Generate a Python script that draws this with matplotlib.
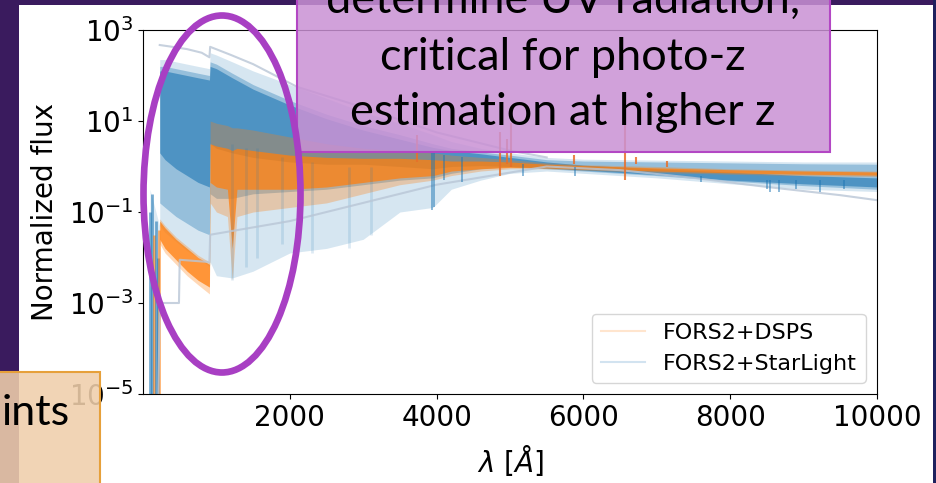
import numpy as np
import matplotlib.pyplot as plt
from matplotlib.patches import Ellipse, Rectangle
from matplotlib.lines import Line2D

# ---- data (log10 of normalized flux) ----
# FORS2+StarLight envelope (blue)
sl_wave = [228, 300, 450, 600, 750, 905, 915, 1000, 1216, 1500, 2000, 2500, 3000,
           3500, 3950, 4200, 4600, 5000, 5500, 6000, 7000, 8000, 9000, 10000]
sl_light_hi = [2.35, 2.35, 2.3, 2.25, 2.2, 2.15, 2.5, 2.45, 2.3, 2.1, 1.8, 1.5, 1.2,
               0.95, 0.7, 0.55, 0.4, 0.3, 0.2, 0.16, 0.14, 0.12, 0.1, 0.1]
sl_light_lo = [-1.3, -1.45, -1.65, -1.85, -2.0, -2.2, -2.1, -2.4, -2.45, -2.3, -1.9, -1.8, -1.6,
               -1.0, -0.9, -0.5, -0.3, -0.15, -0.1, -0.15, -0.25, -0.38, -0.5, -0.55]
sl_mid_hi = [2.2, 2.2, 2.15, 2.1, 2.05, 2.0, 2.3, 2.25, 2.05, 1.8, 1.45, 1.15, 0.9,
             0.7, 0.5, 0.4, 0.32, 0.25, 0.15, 0.12, 0.1, 0.08, 0.06, 0.05]
sl_mid_lo = [-0.8, -0.9, -1.1, -1.25, -1.4, -1.5, -0.6, -0.7, -0.7, -0.6, -0.55, -0.5, -0.4,
             -0.3, -0.25, -0.15, -0.05, 0.0, -0.05, -0.1, -0.2, -0.32, -0.42, -0.5]
sl_dense_hi = [2.1, 2.1, 2.05, 2.0, 1.95, 1.9, 2.2, 2.15, 1.95, 1.7, 1.35, 1.05, 0.8,
               0.6, 0.42, 0.35, 0.28, 0.2, 0.1, 0.03, -0.05, -0.12, -0.2, -0.25]
sl_dense_lo = [0.3, 0.15, -0.05, -0.2, -0.35, -0.45, 0.5, 0.4, 0.3, 0.2, 0.1, 0.05, 0.05,
               0.0, -0.05, 0.0, 0.02, 0.0, -0.03, -0.08, -0.18, -0.3, -0.38, -0.45]

# far-UV part below the He II edge
fuv_wave = [95, 225]
fuv_lo = [-6, -6]
fuv_hi = [-0.5, -1.3]
fuv_strip_wave = [100, 125, 150, 175, 200, 215]
fuv_strip_top = [-1.0, -0.6, -1.5, -1.2, -2.0, -1.4]
fuv_strip_color = ['#1f77b4', '#1f77b4', '#ff7f0e', '#1f77b4', '#1f77b4', '#ff7f0e']

# FORS2+DSPS envelope (orange)
ds_wave = [228, 300, 450, 600, 750, 905, 915, 1000, 1150, 1216, 1280, 1500, 2000,
           2500, 3000, 3500, 3950, 4200, 4600, 5000, 5500, 6000, 7000, 8000, 9000, 10000]
ds_light_hi = [-1.15, -1.3, -1.55, -1.75, -1.95, -2.1, 1.0, 0.95, 0.9, 0.85, 0.85, 0.8, 0.65,
               0.5, 0.4, 0.35, 0.3, 0.25, 0.2, 0.15, 0.08, 0.04, 0.0, -0.05, -0.08, -0.1]
ds_light_lo = [-1.7, -1.9, -2.15, -2.4, -2.6, -2.8, -0.8, -1.0, -1.1, -2.5, -1.1, -1.0, -0.9,
               -0.8, -0.6, -0.4, -0.3, -0.2, -0.1, -0.05, -0.05, -0.08, -0.13, -0.17, -0.2, -0.22]
ds_dense_hi = [-1.2, -1.35, -1.6, -1.8, -2.0, -2.15, 0.5, 0.45, 0.4, 0.35, 0.4, 0.35, 0.25,
               0.2, 0.18, 0.18, 0.15, 0.12, 0.12, 0.1, 0.05, 0.02, -0.03, -0.07, -0.1, -0.12]
ds_dense_lo = [-1.6, -1.8, -2.05, -2.3, -2.5, -2.65, -0.35, -0.45, -0.5, -1.8, -0.5, -0.5, -0.5,
               -0.45, -0.35, -0.25, -0.2, -0.1, -0.05, -0.02, -0.03, -0.06, -0.1, -0.14, -0.17, -0.19]

# emission lines seen in the DSPS fits
em_wave = [3727, 4861, 4959, 5007, 5876, 6563, 6717, 7136]
em_top = [0.7, 0.76, 0.6, 0.95, 0.25, 0.95, 0.2, 0.12]
em_bot = [0.1, -0.2, 0.05, 0.0, 0.05, -0.3, 0.05, 0.0]

# absorption lines in the StarLight fits
ab_wave = [3934, 3969, 4101, 4340, 5175, 5890, 7600, 8498, 8542, 8662, 8900, 9230, 9550]
ab_top = [0.3, 0.3, 0.25, 0.2, 0.05, 0.0, -0.2, -0.3, -0.3, -0.3, -0.3, -0.3, -0.3]
ab_bot = [-0.95, -0.9, -0.3, -0.35, -0.2, -0.2, -0.35, -0.5, -0.55, -0.55, -0.5, -0.55, -0.5]
uv_ab_wave = [1216, 1400, 1550, 1900, 2300, 2800, 3100]
uv_ab_top = [0.5, 0.4, 0.4, 0.2, 0.1, 0.0, 0.0]
uv_ab_bot = [-2.5, -2.2, -2.0, -1.7, -1.9, -1.8, -1.5]

# two outlying StarLight spectra
top_wave = [228, 400, 600, 800, 905, 915, 1200, 1500, 2100, 3000, 4000, 5000, 5500]
top_logf = [2.67, 2.63, 2.58, 2.5, 2.4, 2.63, 2.45, 2.25, 1.75, 1.3, 0.75, 0.35, 0.2]
low_wave = [200, 228, 300, 490, 500, 905, 915, 2000, 3000, 4000, 5500, 6500, 7500, 8500, 9500, 10000]
low_logf = [-6, -3.0, -3.0, -3.0, -2.05, -2.1, -1.5, -1.2, -0.8, -0.4, 0.0, -0.08, -0.25, -0.45, -0.63, -0.74]

W, H = 936, 483


def fx(x):
    return x / W


def fy(y):
    return 1 - y / H


def lg(v):
    return np.power(10.0, np.array(v, dtype=float))


fig = plt.figure(figsize=(W / 100, H / 100), dpi=100, facecolor='#3a1b5e')
# slide screenshot area
fig.add_artist(Rectangle((fx(19), 0), fx(933) - fx(19), fy(5), transform=fig.transFigure,
                         facecolor='white', edgecolor='none', zorder=-5))
fig.add_artist(Rectangle((fx(933), 0), fx(936) - fx(933), 1, transform=fig.transFigure,
                         facecolor='#1f215e', edgecolor='none', zorder=-5))

ax = fig.add_axes([fx(143), fy(394), fx(877) - fx(143), fy(30) - fy(394)])
ax.set_yscale('log')

blue, orange = '#1f77b4', '#ff7f0e'

# StarLight
ax.fill_between(fuv_wave, lg(fuv_lo), lg(fuv_hi), color=blue, alpha=0.15, lw=0)
ax.vlines(fuv_strip_wave, 1e-6, lg(fuv_strip_top), colors=fuv_strip_color, alpha=0.6, lw=2)
ax.fill_between(sl_wave, lg(sl_light_lo), lg(sl_light_hi), color=blue, alpha=0.18, lw=0)
ax.fill_between(sl_wave, lg(sl_mid_lo), lg(sl_mid_hi), color=blue, alpha=0.35, lw=0)
ax.fill_between(sl_wave, lg(sl_dense_lo), lg(sl_dense_hi), color=blue, alpha=0.6, lw=0)
ax.vlines(uv_ab_wave, lg(uv_ab_bot), lg(uv_ab_top), colors=blue, alpha=0.15, lw=2)
ax.plot(top_wave, lg(top_logf), color='#b9c6d6', lw=1.5, alpha=0.8)
ax.plot(low_wave, lg(low_logf), color='#b9c6d6', lw=1.5, alpha=0.8)

# DSPS
ax.fill_between(ds_wave, lg(ds_light_lo), lg(ds_light_hi), color=orange, alpha=0.3, lw=0)
ax.fill_between(ds_wave, lg(ds_dense_lo), lg(ds_dense_hi), color=orange, alpha=0.75, lw=0)

ax.vlines(ab_wave, lg(ab_bot), lg(ab_top), colors=blue, alpha=0.6, lw=1.2)
ax.vlines(em_wave, lg(em_bot), lg(em_top), colors='#e8702a', alpha=0.85, lw=1.5)

ax.set_xlim(0, 10000)
ax.set_ylim(1e-5, 1e3)
ax.set_xticks([2000, 4000, 6000, 8000, 10000])
ax.set_yticks([1e-5, 1e-3, 1e-1, 1e1, 1e3])
ax.tick_params(labelsize=20)
ax.set_xlabel(r'$\lambda\ [\AA]$', fontsize=20, labelpad=8)
ax.set_ylabel('Normalized flux', fontsize=20, labelpad=7)

handles = [Line2D([], [], color=orange, alpha=0.2, lw=1.5),
           Line2D([], [], color=blue, alpha=0.2, lw=1.5)]
ax.legend(handles, ['FORS2+DSPS', 'FORS2+StarLight'], loc='lower right', fontsize=16)

# slide overlays
fig.add_artist(Ellipse((fx(222), fy(194)), 157 / W, 357 / H, transform=fig.transFigure,
                       fill=False, edgecolor='#a83fc3', lw=4.8, zorder=4))
fig.add_artist(Rectangle((fx(297), fy(152)), fx(830) - fx(297), 170 / H, transform=fig.transFigure,
                         facecolor=(0.79, 0.57, 0.83, 0.85), edgecolor='#b347c4', lw=1.5, zorder=3))
fig.add_artist(Rectangle((fx(-5), fy(490)), 105 / W, (490 - 372) / H, transform=fig.transFigure,
                         facecolor=(0.94, 0.81, 0.67, 0.88), edgecolor='#e6a03a', lw=1.5, zorder=3))

box_lines = ['determine UV radiation,', 'critical for photo-z', 'estimation at higher z']
box_base = [13, 70, 125]
for s, b in zip(box_lines, box_base):
    fig.text(fx(563), fy(b), s, ha='center', va='baseline', fontsize=32.5, family='Lato',
             color='black', zorder=5)
fig.text(fx(70), fy(425), 'ints', ha='right', va='baseline', fontsize=31, family='Lato',
         color='black', zorder=5)

fig.savefig('out.png', dpi=100, facecolor=fig.get_facecolor())
